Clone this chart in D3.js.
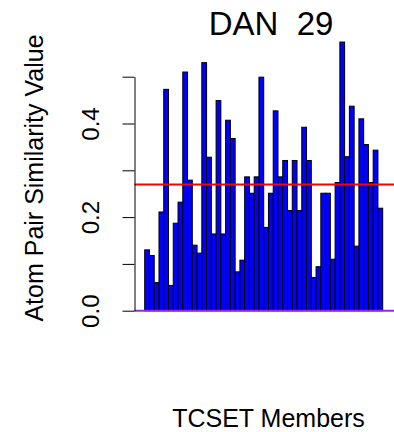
<!DOCTYPE html>
<html>
<head>
<meta charset="utf-8">
<script src="https://cdn.jsdelivr.net/npm/d3@7"></script>
<style>
  html, body { margin: 0; padding: 0; background: #fff; }
  svg { display: block; }
  text { font-family: "Liberation Sans", Arial, Helvetica, sans-serif; fill: #000; }
</style>
</head>
<body>
<svg id="chart" width="394" height="432"></svg>
<script>
// Atom pair similarity of each TCSET member to DAN 29
const members = d3.range(1, 51);
const similarity = [
  0.130, 0.118, 0.060, 0.211, 0.473, 0.054, 0.187, 0.232, 0.510, 0.279,
  0.140, 0.123, 0.530, 0.328, 0.164, 0.449, 0.164, 0.407, 0.368, 0.083,
  0.108, 0.286, 0.251, 0.286, 0.499, 0.178, 0.251, 0.427, 0.286, 0.321,
  0.214, 0.321, 0.214, 0.392, 0.321, 0.071, 0.094, 0.251, 0.251, 0.110,
  0.274, 0.574, 0.329, 0.437, 0.138, 0.410, 0.355, 0.274, 0.343, 0.219
];
const yTicks = [0, 0.1, 0.2, 0.3, 0.4, 0.5];
const yTickLabels = ["0.0", "", "0.2", "", "0.4", ""];
const title = "DAN  29";
const xTitle = "TCSET Members";
const yTitle = "Atom Pair Similarity Value";

const svg = d3.select("#chart");

const x = d3.scaleBand().domain(members).range([144.7, 382.7]).padding(0);
const y = d3.scaleLinear().domain([0, 0.5]).range([310.7, 76.7]);
const plotLeft = 134.5, plotRight = 394;

// bars
svg.append("g")
  .selectAll("rect")
  .data(similarity)
  .join("rect")
  .attr("x", (d, i) => x(members[i]))
  .attr("width", x.bandwidth())
  .attr("y", d => y(d))
  .attr("height", d => y(0) - y(d))
  .attr("fill", "#0000ff")
  .attr("stroke", "#000")
  .attr("stroke-width", 1);

// baseline at zero
svg.append("line")
  .attr("x1", plotLeft).attr("x2", plotRight)
  .attr("y1", y(0)).attr("y2", y(0))
  .attr("stroke", "#a020f0").attr("stroke-width", 2);

// mean similarity
const meanVal = d3.mean(similarity);
svg.append("line")
  .attr("x1", plotLeft).attr("x2", plotRight)
  .attr("y1", y(meanVal)).attr("y2", y(meanVal))
  .attr("stroke", "#ff0000").attr("stroke-width", 2);

// y axis
const yAxis = d3.axisLeft(y)
  .tickValues(yTicks)
  .tickSize(12)
  .tickSizeOuter(0)
  .tickFormat((d, i) => yTickLabels[i]);

const gy = svg.append("g")
  .attr("transform", `translate(${plotLeft},0)`)
  .call(yAxis);
gy.select(".domain").attr("stroke", "#000").attr("stroke-width", 1);
gy.selectAll(".tick line").attr("stroke", "#000").attr("stroke-width", 1);
gy.selectAll(".tick text")
  .attr("x", null).attr("dy", null)
  .attr("transform", "translate(-36,0) rotate(-90)")
  .attr("text-anchor", "middle")
  .style("font-size", "24px")
  .style("font-family", "'Liberation Sans', Arial, Helvetica, sans-serif")
  .attr("fill", "#000");

// titles
svg.append("text")
  .attr("x", 271).attr("y", 35)
  .attr("text-anchor", "middle")
  .style("font-size", "33px")
  .style("white-space", "pre")
  .attr("xml:space", "preserve")
  .text(title);

svg.append("text")
  .attr("x", 268.5).attr("y", 427)
  .attr("text-anchor", "middle")
  .style("font-size", "25px")
  .text(xTitle);

svg.append("text")
  .attr("transform", `translate(43,178) rotate(-90)`)
  .attr("text-anchor", "middle")
  .style("font-size", "25px")
  .text(yTitle);
</script>
</body>
</html>
